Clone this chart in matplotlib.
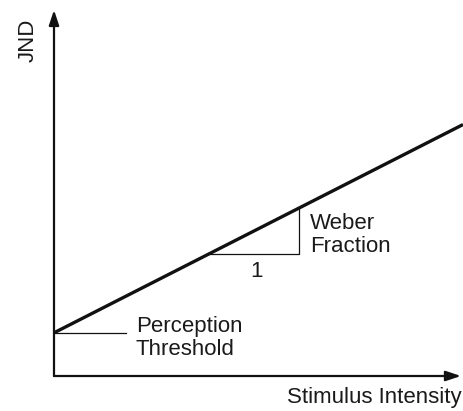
import matplotlib
matplotlib.use("Agg")
import matplotlib.pyplot as plt

plt.rcParams['font.family'] = ['Liberation Sans', 'DejaVu Sans']

# Weber's law sketch: JND grows linearly with stimulus intensity
intensity = [0.0, 10.0]
jnd = [1.18, 6.87]
threshold_x = [0.0, 1.76]
threshold_y = [1.18, 1.18]
triangle_x = [3.77, 6.0, 6.0]
triangle_y = [3.32, 3.32, 4.59]

fig = plt.figure(figsize=(4.63, 4.11), dpi=100)
ax = fig.add_axes([54 / 463, 35 / 411, 409 / 463, 366 / 411])
ax.set_xlim(0, 10)
ax.set_ylim(0, 10)
ax.axis('off')

# axes with arrow heads
arrow = dict(arrowstyle='-|>,head_length=0.9,head_width=0.3', color='#111111', lw=1.6,
             shrinkA=0, shrinkB=0)
ax.annotate('', xy=(0.995, 0), xytext=(0, 0), xycoords='axes fraction', arrowprops=arrow)
ax.annotate('', xy=(0, 1.0), xytext=(0, 0), xycoords='axes fraction', arrowprops=arrow)

ax.plot(intensity, jnd, color='#111111', lw=2.4, solid_capstyle='butt', clip_on=False)
ax.plot(threshold_x, threshold_y, color='#111111', lw=0.9)
ax.plot(triangle_x, triangle_y, color='#111111', lw=0.9)

fs = 16
tc = '#1a1a1a'
ax.text(2.0, 1.20, 'Perception', fontsize=fs, va='baseline', ha='left', color=tc)
ax.text(2.0, 0.57, 'Threshold', fontsize=fs, va='baseline', ha='left', color=tc)
ax.text(6.26, 4.02, 'Weber', fontsize=fs, va='baseline', ha='left', color=tc)
ax.text(6.26, 3.39, 'Fraction', fontsize=fs, va='baseline', ha='left', color=tc)
ax.text(4.94, 2.70, '1', fontsize=fs, va='baseline', ha='center', color=tc)

fig.text(462 / 463, 1 - 403 / 411, 'Stimulus Intensity', fontsize=fs, ha='right',
         va='baseline', color=tc)
fig.text(28 / 463, 1 - 40 / 411, 'JND', fontsize=fs, rotation=90, ha='center',
         va='center', color=tc)

fig.savefig('out.png', dpi=100)
